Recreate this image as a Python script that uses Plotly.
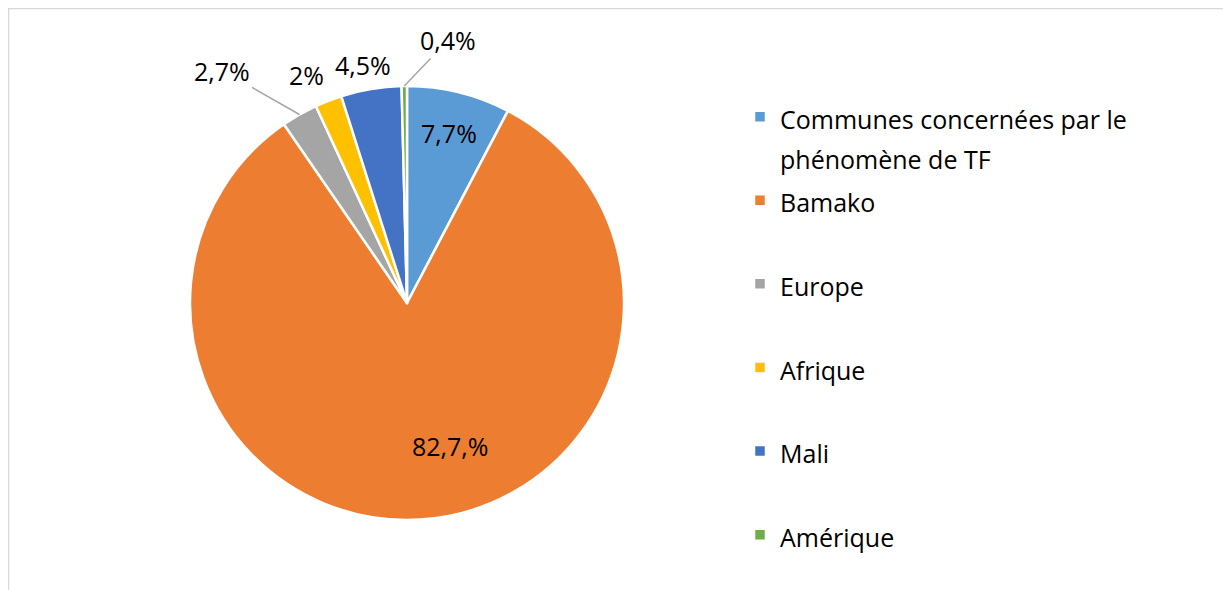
import math
import plotly.graph_objects as go

categories = ["Communes concernées par le phénomène de TF", "Bamako", "Europe",
              "Afrique", "Mali", "Amérique"]
values = [7.7, 82.7, 2.7, 2.0, 4.5, 0.4]
value_labels = ["7,7%", "82,7,%", "2,7%", "2%", "4,5%", "0,4%"]
colors = ["#5B9BD5", "#ED7D31", "#A5A5A5", "#FFC000", "#4472C4", "#70AD47"]

# label placement (style): native inside label for the first slice, annotations for the rest
inside = [True, False, False, False, False, False]
# anchor radius (fraction of pie radius) on each slice's mid angle, offset (px), leader line
label_radius = {1: 0.69, 2: 1.0, 3: 1.0, 4: 1.0, 5: 1.0}
label_offset = {1: (35, -6), 2: (-77, -44), 3: (-22, -26), 4: (-8, -24), 5: (44, -46)}
leader = {1: False, 2: True, 3: False, 4: False, 5: True}

FS = 25          # visible text size
LEG_FS = 31      # legend base size (controls entry spacing)


def leg(txt, last=False):
    lines = txt.split("\n")
    body = "<br>".join(f"<span style='font-size:{FS}px'>{l}</span>" for l in lines)
    if len(lines) == 1 and not last:
        body += "<br>\u00a0"
    return body


legend_labels = [leg("Communes concernées par le\nphénomène de TF")] + \
    [leg(c, last=(i == len(categories) - 2)) for i, c in enumerate(categories[1:])]

# the page body has an 8px margin: work in page pixels and shift
OFF = 8
W, H = 1231 - OFF, 590 - OFF
cx, cy, r = 407 - OFF, 303 - OFF, 217

fig = go.Figure()
fig.add_trace(go.Pie(
    labels=legend_labels,
    values=values,
    text=[t if ins else "" for t, ins in zip(value_labels, inside)],
    texttemplate="%{text}",
    textposition=["inside" if ins else "none" for ins in inside],
    insidetextorientation="horizontal",
    sort=False,
    direction="clockwise",
    rotation=0,
    marker=dict(colors=colors, line=dict(color="white", width=2.5)),
    textfont=dict(family="Open Sans", size=FS, color="#000000"),
    domain=dict(x=[(cx - r) / W, (cx + r) / W], y=[1 - (cy + r) / H, 1 - (cy - r) / H]),
    hoverinfo="value",
))

# remaining labels, anchored on each slice's mid angle (computed from the data)
total = sum(values)
cum = 0.0
annotations = []
for i, v in enumerate(values):
    theta = 2 * math.pi * (cum + v / 2) / total
    cum += v
    if inside[i]:
        continue
    rr = r * label_radius[i]
    px = cx + rr * math.sin(theta)
    py = cy - rr * math.cos(theta)
    dx, dy = label_offset[i]
    if leader[i]:
        annotations.append(dict(
            x=px / W, y=1 - py / H, xref="paper", yref="paper",
            text=value_labels[i], showarrow=True, ax=dx, ay=dy,
            arrowhead=0, arrowwidth=1.5, arrowcolor="#A6A6A6", standoff=0,
            font=dict(family="Open Sans", size=FS, color="#000000"),
        ))
    else:
        annotations.append(dict(
            x=(px + dx) / W, y=1 - (py + dy) / H, xref="paper", yref="paper",
            xanchor="center", yanchor="middle",
            text=value_labels[i], showarrow=False,
            font=dict(family="Open Sans", size=FS, color="#000000"),
        ))

fig.update_layout(
    width=W, height=H,
    margin=dict(l=0, r=0, t=0, b=0, autoexpand=False),
    paper_bgcolor="white",
    plot_bgcolor="white",
    font=dict(family="Open Sans", color="#000000"),
    showlegend=True,
    legend=dict(
        x=732 / W, y=1 - 82 / H, xanchor="left", yanchor="top",
        font=dict(family="Open Sans", size=LEG_FS, color="#000000"),
        valign="top",
        bgcolor="rgba(0,0,0,0)",
    ),
    annotations=annotations,
    shapes=[dict(type="rect", xref="paper", yref="paper",
                 x0=0.6 / W, x1=1.1, y0=-0.1, y1=1 - 0.6 / H,
                 line=dict(color="#D9D9D9", width=1.5), fillcolor="rgba(0,0,0,0)",
                 layer="below")],
)

fig.write_html("out.html")
